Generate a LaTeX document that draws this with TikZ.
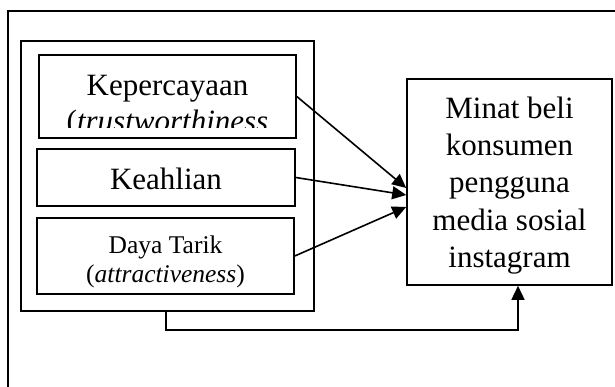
\documentclass[tikz,border=0pt]{standalone}
\usepackage{fontspec}
\setmainfont{Liberation Serif}
\usetikzlibrary{arrows.meta}
\begin{document}
\begin{tikzpicture}[x=1pt,y=-1pt,
  box/.style={draw,line width=1.6pt,inner sep=0pt},
  txt/.style={inner sep=0pt,font=\fontsize{31}{37}\selectfont},
  smalltxt/.style={inner sep=0pt,font=\fontsize{25.5}{28}\selectfont},
  conn/.style={line width=1.6pt,-{Triangle[length=14pt,width=13pt]}}]
\useasboundingbox (0,0) rectangle (615,387);
\clip (0,0) rectangle (615,387);
% outer frame (extends beyond picture)
\draw[line width=1.6pt] (8,400) -- (8,11) -- (630,11);
% inner group box
\node[box,minimum width=293pt,minimum height=270pt] (grp) at (167.5,176) {};
% variable boxes
\node[box,minimum width=257pt,minimum height=83pt] (k) at (167.5,96.5) {};
\node[box,minimum width=258pt,minimum height=57pt] (h) at (166,177.5) {};
\node[box,minimum width=257pt,minimum height=76pt] (d) at (165.5,256) {};
\node[box,minimum width=205pt,minimum height=206pt] (m) at (509.5,182) {};
% texts
\begin{scope}
\clip (39,55) rectangle (296,128);
\node[txt,anchor=base] (kt1) at (167.5,96) {Kepercayaan};
\node[txt,anchor=base] (kt2) at (167.5,132) {(\textit{trustworthiness}};
\end{scope}
\node[txt,anchor=base] (ht) at (166,190) {Keahlian};
\node[smalltxt,anchor=base] (dt1) at (165.5,254) {Daya Tarik};
\node[smalltxt,anchor=base] (dt2) at (165.5,282) {(\textit{attractiveness})};
\node[txt,anchor=base] (mt1) at (509.5,119) {Minat beli};
\node[txt,anchor=base] (mt2) at (509.5,156) {konsumen};
\node[txt,anchor=base] (mt3) at (509.5,193) {pengguna};
\node[txt,anchor=base] (mt4) at (509.5,230) {media sosial};
\node[txt,anchor=base] (mt5) at (509.5,267) {instagram};
% connectors
\draw[conn] (k.east) -- ([yshift=-6pt]m.west);
\draw[conn] (h.east) -- ([yshift=-13pt]m.west);
\draw[conn] (d.east) -- ([yshift=-25pt]m.west);
\draw[conn] ([xshift=-1.5pt]grp.south) -- ++(0,18) -| ([xshift=8.5pt]m.south);
\end{tikzpicture}
\end{document}
